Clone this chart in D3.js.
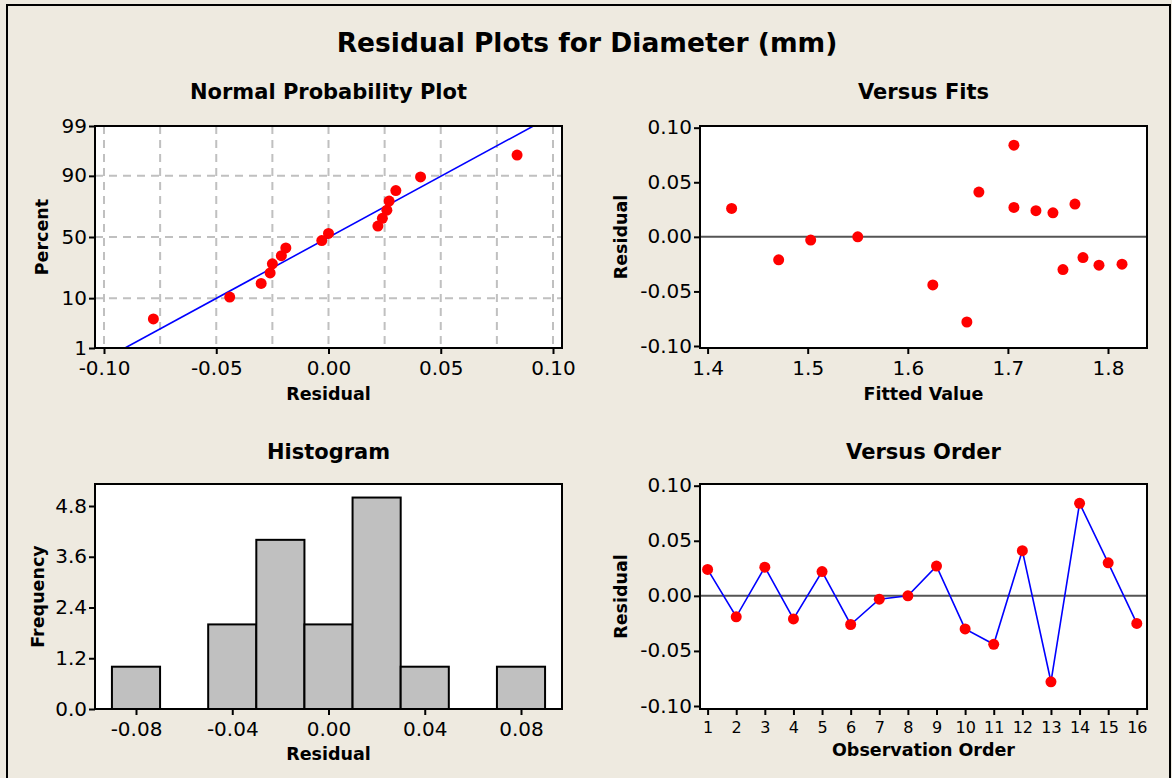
<!DOCTYPE html>
<html>
<head>
<meta charset="utf-8">
<title>Residual Plots for Diameter (mm)</title>
<script src="https://d3js.org/d3.v7.min.js"></script>
<style>
  body { margin: 0; background: #eeeae0; }
  text { font-family: "DejaVu Sans", sans-serif; fill: #000; }
</style>
</head>
<body>
<div id="chart"></div>
<script>
// residuals in observation order
let order = d3.range(1, 17);
let residuals = [0.024, -0.019, 0.026, -0.021, 0.022, -0.026, -0.003, 0.000,
                 0.027, -0.030, -0.044, 0.041, -0.078, 0.084, 0.030, -0.025];
let fitted = [1.728, 1.775, 1.424, 1.471, 1.745, 1.791, 1.503, 1.550,
              1.706, 1.755, 1.625, 1.671, 1.659, 1.706, 1.767, 1.814];
// plotted percent of the sorted residuals (normal plot)
let percents = [4.3, 10.4, 16.5, 22.6, 28.7, 34.8, 40.9, 47.0,
                53.0, 59.1, 65.2, 71.3, 77.4, 83.5, 89.6, 95.7];
// fitted normal line
let fitMean = 0.0003, fitSd = 0.0391;
// histogram
let binMids = [-0.08, -0.06, -0.04, -0.02, 0.00, 0.02, 0.04, 0.06, 0.08];
let binCounts = [1, 0, 2, 4, 2, 5, 1, 0, 1];
let binWidth = 0.02;
// ticks
let pctTicks = [1, 10, 50, 90, 99];
let resTicks = [-0.10, -0.05, 0.00, 0.05, 0.10];
let resGrid = [-0.10, -0.075, -0.05, -0.025, 0, 0.025, 0.05, 0.075, 0.10];
let fitTicks = [1.4, 1.5, 1.6, 1.7, 1.8];
let freqTicks = [0.0, 1.2, 2.4, 3.6, 4.8];
let histTicks = [-0.08, -0.04, 0.00, 0.04, 0.08];

// inverse normal cdf (Acklam)
function probit(p) {
  let a = [-39.6968302866538, 220.946098424521, -275.928510446969, 138.357751867269, -30.6647980661472, 2.50662827745924];
  let b = [-54.4760987982241, 161.585836858041, -155.698979859887, 66.8013118877197, -13.2806815528857];
  let c = [-0.00778489400243029, -0.322396458041136, -2.40075827716184, -2.54973253934373, 4.37466414146497, 2.93816398269878];
  let d = [0.00778469570904146, 0.32246712907004, 2.445134137143, 3.75440866190742];
  let pl = 0.02425, q, r;
  if (p < pl) {
    q = Math.sqrt(-2 * Math.log(p));
    return (((((c[0]*q+c[1])*q+c[2])*q+c[3])*q+c[4])*q+c[5]) / ((((d[0]*q+d[1])*q+d[2])*q+d[3])*q+1);
  } else if (p <= 1 - pl) {
    q = p - 0.5; r = q * q;
    return (((((a[0]*r+a[1])*r+a[2])*r+a[3])*r+a[4])*r+a[5])*q / (((((b[0]*r+b[1])*r+b[2])*r+b[3])*r+b[4])*r+1);
  } else {
    q = Math.sqrt(-2 * Math.log(1 - p));
    return -(((((c[0]*q+c[1])*q+c[2])*q+c[3])*q+c[4])*q+c[5]) / ((((d[0]*q+d[1])*q+d[2])*q+d[3])*q+1);
  }
}

// plain hyphen minus like the original
function fmt(spec) {
  let f = d3.format(spec);
  return d => f(d).replace("\u2212", "-");
}

let W = 1172, H = 778;
let svg = d3.select("#chart").append("svg")
  .attr("width", W).attr("height", H);

svg.append("rect").attr("width", W).attr("height", H).attr("fill", "#eeeae0");
svg.append("rect").attr("x", 7).attr("y", 5).attr("width", 1163).attr("height", 790)
  .attr("fill", "none").attr("stroke", "#000").attr("stroke-width", 2);

svg.append("text").attr("x", 587).attr("y", 52).attr("text-anchor", "middle")
  .attr("font-size", "26.5px").attr("font-weight", "bold")
  .text("Residual Plots for Diameter (mm)");

function panel(box, title, xlab, ylab, ylabX, titleY, xlabY) {
  let g = svg.append("g");
  g.append("rect").attr("x", box.x0).attr("y", box.y0)
    .attr("width", box.x1 - box.x0).attr("height", box.y1 - box.y0)
    .attr("fill", "#fff");
  g.append("text").attr("x", (box.x0 + box.x1) / 2).attr("y", titleY)
    .attr("text-anchor", "middle").attr("font-size", "21px").attr("font-weight", "bold")
    .text(title);
  g.append("text").attr("x", (box.x0 + box.x1) / 2).attr("y", xlabY)
    .attr("text-anchor", "middle").attr("font-size", "17.5px").attr("font-weight", "bold")
    .text(xlab);
  g.append("text")
    .attr("transform", "translate(" + ylabX + "," + (box.y0 + box.y1) / 2 + ") rotate(-90)")
    .attr("text-anchor", "middle").attr("font-size", "17.5px").attr("font-weight", "bold")
    .text(ylab);
  let clip = "clip" + Math.round(box.x0) + "_" + Math.round(box.y0);
  g.append("clipPath").attr("id", clip).append("rect")
    .attr("x", box.x0).attr("y", box.y0)
    .attr("width", box.x1 - box.x0).attr("height", box.y1 - box.y0);
  let inner = g.append("g").attr("clip-path", "url(#" + clip + ")");
  return {g: g, inner: inner};
}

function frame(p, box) {
  p.g.append("rect").attr("x", box.x0).attr("y", box.y0)
    .attr("width", box.x1 - box.x0).attr("height", box.y1 - box.y0)
    .attr("fill", "none").attr("stroke", "#000").attr("stroke-width", 2);
}

function axes(p, box, x, xt, xfmt, y, yt, yfmt, xfs) {
  let xa = p.g.append("g").attr("transform", "translate(0," + box.y1 + ")")
    .call(d3.axisBottom(x).tickValues(xt).tickFormat(xfmt).tickSize(6).tickPadding(7));
  let ya = p.g.append("g").attr("transform", "translate(" + box.x0 + ",0)")
    .call(d3.axisLeft(y).tickValues(yt).tickFormat(yfmt).tickSize(6).tickPadding(2));
  [xa, ya].forEach(function(a) {
    a.select(".domain").remove();
    a.selectAll("line").attr("stroke", "#000").attr("stroke-width", 2);
    a.selectAll("text").attr("font-size", "20px").attr("fill", "#000")
      .attr("font-family", "\"DejaVu Sans Condensed\", \"DejaVu Sans\", sans-serif");
  });
  ya.selectAll("text").attr("dy", "0.3em");
  if (xfs) xa.selectAll("text").attr("font-size", xfs);
}

function dots(layer, data, fx, fy) {
  layer.selectAll("circle.pt").data(data).enter().append("circle")
    .attr("class", "pt")
    .attr("cx", fx).attr("cy", fy).attr("r", 5.5).attr("fill", "#ff0000");
}

// ---------- Normal probability plot ----------
let b1 = {x0: 95, x1: 562, y0: 126, y1: 348};
let p1 = panel(b1, "Normal Probability Plot", "Residual", "Percent", 48, 99, 400);
let x1 = d3.scaleLinear().domain([-0.10, 0.10]).range([104, 553]);
let y1 = d3.scaleLinear().domain([probit(0.01), probit(0.99)]).range([b1.y1, b1.y0]);
p1.inner.selectAll("line.vg").data(resGrid).enter().append("line")
  .attr("x1", d => x1(d)).attr("x2", d => x1(d)).attr("y1", b1.y0).attr("y2", b1.y1)
  .attr("stroke", "#c0c0c0").attr("stroke-width", 2).attr("stroke-dasharray", "8,6");
p1.inner.selectAll("line.hg").data([10, 50, 90]).enter().append("line")
  .attr("x1", b1.x0).attr("x2", b1.x1).attr("y1", d => y1(probit(d / 100))).attr("y2", d => y1(probit(d / 100)))
  .attr("stroke", "#c0c0c0").attr("stroke-width", 2).attr("stroke-dasharray", "8,6");
let zEnds = [probit(0.01), probit(0.99)];
p1.inner.append("line")
  .attr("x1", x1(fitMean + zEnds[0] * fitSd)).attr("y1", y1(zEnds[0]))
  .attr("x2", x1(fitMean + zEnds[1] * fitSd)).attr("y2", y1(zEnds[1]))
  .attr("stroke", "#0000ff").attr("stroke-width", 1.6);
let sorted = residuals.slice().sort(d3.ascending);
dots(p1.inner, sorted, d => x1(d), (d, i) => y1(probit(percents[i] / 100)));
frame(p1, b1);
axes(p1, b1, x1, resTicks, fmt(".2f"), y1, pctTicks.map(d => probit(d / 100)),
  (d, i) => pctTicks[i]);

// ---------- Versus fits ----------
let b2 = {x0: 700, x1: 1147, y0: 126, y1: 348};
let p2 = panel(b2, "Versus Fits", "Fitted Value", "Residual", 627, 99, 400);
let x2 = d3.scaleLinear().domain([1.4, 1.8]).range([707.6, 1108]);
let y2 = d3.scaleLinear().domain([-0.10, 0.10]).range([346, 127.7]);
p2.inner.append("line").attr("x1", b2.x0).attr("x2", b2.x1)
  .attr("y1", y2(0)).attr("y2", y2(0)).attr("stroke", "#555").attr("stroke-width", 2);
dots(p2.inner, fitted, d => x2(d), (d, i) => y2(residuals[i]));
frame(p2, b2);
axes(p2, b2, x2, fitTicks, fmt(".1f"), y2, resTicks, fmt(".2f"));

// ---------- Histogram ----------
let b3 = {x0: 95, x1: 562, y0: 484, y1: 709};
let p3 = panel(b3, "Histogram", "Residual", "Frequency", 44, 459, 760);
let x3 = d3.scaleLinear().domain([-0.08, 0.08]).range([136, 521]);
let y3 = d3.scaleLinear().domain([0, 4.8]).range([b3.y1, 506]);
p3.inner.selectAll("rect.bar").data(binMids).enter().append("rect")
  .attr("class", "bar")
  .attr("x", d => x3(d - binWidth / 2)).attr("width", d => x3(d + binWidth / 2) - x3(d - binWidth / 2))
  .attr("y", (d, i) => y3(binCounts[i])).attr("height", (d, i) => y3(0) - y3(binCounts[i]))
  .attr("fill", "#c0c0c0").attr("stroke", "#000").attr("stroke-width", 2);
frame(p3, b3);
axes(p3, b3, x3, histTicks, fmt(".2f"), y3, freqTicks, fmt(".1f"));

// ---------- Versus order ----------
let b4 = {x0: 700, x1: 1147, y0: 484, y1: 709};
let p4 = panel(b4, "Versus Order", "Observation Order", "Residual", 627, 459, 756);
let x4 = d3.scaleLinear().domain([1, 16]).range([707.6, 1136.8]);
let y4 = d3.scaleLinear().domain([-0.10, 0.10]).range([706, 485.7]);
p4.inner.append("line").attr("x1", b4.x0).attr("x2", b4.x1)
  .attr("y1", y4(0)).attr("y2", y4(0)).attr("stroke", "#555").attr("stroke-width", 2);
p4.inner.append("path").datum(residuals)
  .attr("d", d3.line().x((d, i) => x4(order[i])).y(d => y4(d)))
  .attr("fill", "none").attr("stroke", "#0000ff").attr("stroke-width", 1.6);
dots(p4.inner, residuals, (d, i) => x4(order[i]), d => y4(d));
frame(p4, b4);
axes(p4, b4, x4, order, fmt("d"), y4, resTicks, fmt(".2f"), "16px");
</script>
</body>
</html>
